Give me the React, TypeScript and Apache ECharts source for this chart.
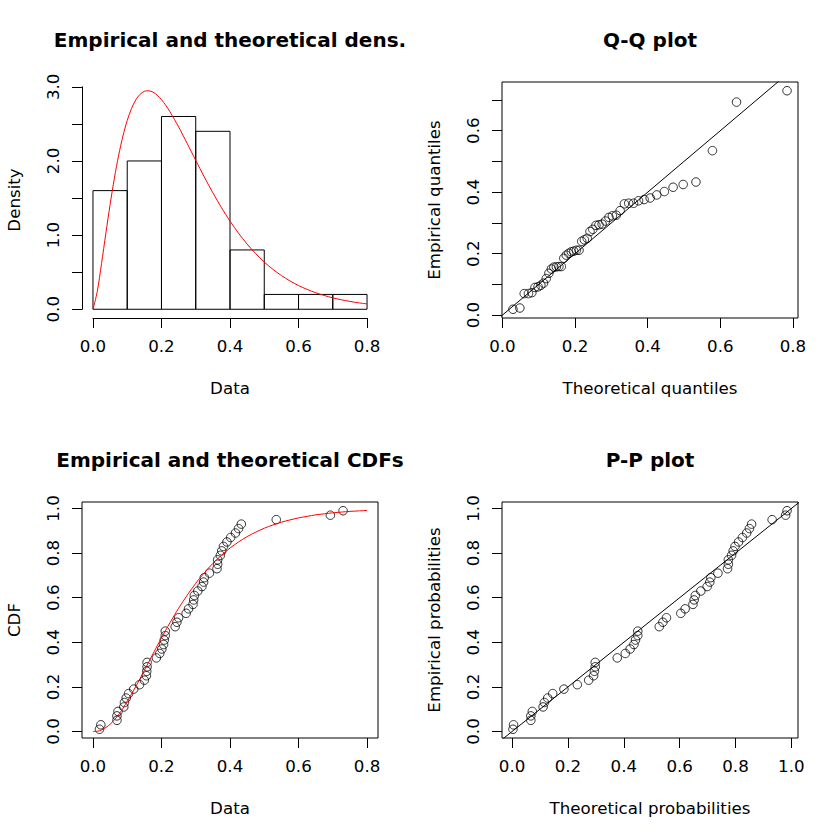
import React, { useEffect, useRef } from "react";
import * as echarts from "echarts";

// ---------- data ----------
const BREAKS = [0, 0.1, 0.2, 0.3, 0.4, 0.5, 0.6, 0.7, 0.8];
const HIST_DENSITY = [1.6, 2.0, 2.6, 2.4, 0.8, 0.2, 0.2, 0.2];

// fitted (theoretical) density curve
const DENS_X = [0, 0.0125, 0.025, 0.0375, 0.05, 0.0625, 0.075, 0.0875, 0.1, 0.1125, 0.125, 0.1375, 0.15, 0.1625, 0.175, 0.1875, 0.2, 0.2125, 0.225, 0.25, 0.275, 0.3, 0.325, 0.35, 0.375, 0.4, 0.425, 0.45, 0.475, 0.5, 0.525, 0.55, 0.575, 0.6, 0.625, 0.65, 0.675, 0.7, 0.725, 0.75, 0.775, 0.8];
const DENS_Y = [0, 0.237, 0.615, 1.021, 1.412, 1.768, 2.078, 2.337, 2.546, 2.707, 2.824, 2.899, 2.939, 2.947, 2.929, 2.887, 2.826, 2.751, 2.662, 2.459, 2.237, 2.008, 1.784, 1.571, 1.372, 1.189, 1.025, 0.879, 0.75, 0.637, 0.539, 0.455, 0.382, 0.32, 0.268, 0.223, 0.186, 0.154, 0.128, 0.106, 0.087, 0.072];

// fitted (theoretical) CDF curve
const CDF_X = [0, 0.0125, 0.025, 0.05, 0.075, 0.1, 0.125, 0.15, 0.175, 0.2, 0.225, 0.25, 0.275, 0.3, 0.325, 0.35, 0.375, 0.4, 0.425, 0.45, 0.475, 0.5, 0.525, 0.55, 0.575, 0.6, 0.625, 0.65, 0.675, 0.7, 0.725, 0.75, 0.775, 0.8];
const CDF_Y = [0, 0.0011, 0.0065, 0.0322, 0.076, 0.1345, 0.2017, 0.2743, 0.3476, 0.42, 0.4884, 0.5528, 0.6112, 0.6646, 0.7117, 0.7539, 0.7903, 0.8226, 0.8499, 0.874, 0.894, 0.9116, 0.926, 0.9387, 0.9488, 0.9579, 0.9649, 0.9714, 0.9761, 0.9807, 0.9839, 0.9871, 0.9892, 0.9915];

// sorted observations
const DATA_SORTED = [0.019, 0.023, 0.07, 0.07, 0.073, 0.09, 0.092, 0.097, 0.104, 0.119, 0.136, 0.15, 0.156, 0.157, 0.158, 0.158, 0.185, 0.195, 0.201, 0.206, 0.208, 0.211, 0.211, 0.24, 0.245, 0.25, 0.272, 0.279, 0.292, 0.294, 0.296, 0.306, 0.318, 0.323, 0.325, 0.34, 0.362, 0.364, 0.364, 0.372, 0.376, 0.381, 0.391, 0.402, 0.416, 0.425, 0.433, 0.535, 0.693, 0.73];
// empirical probabilities
const P_EMP = [0.01, 0.03, 0.05, 0.07, 0.09, 0.11, 0.13, 0.15, 0.17, 0.19, 0.21, 0.23, 0.25, 0.27, 0.29, 0.31, 0.33, 0.35, 0.37, 0.39, 0.41, 0.43, 0.45, 0.47, 0.49, 0.51, 0.53, 0.55, 0.57, 0.59, 0.61, 0.63, 0.65, 0.67, 0.69, 0.71, 0.73, 0.75, 0.77, 0.79, 0.81, 0.83, 0.85, 0.87, 0.89, 0.91, 0.93, 0.95, 0.97, 0.99];
// theoretical quantiles (Q-Q x)
const THEO_Q = [0.029, 0.048, 0.06, 0.0716, 0.081, 0.0895, 0.0981, 0.1058, 0.1132, 0.1207, 0.1279, 0.1347, 0.1416, 0.1485, 0.1554, 0.1622, 0.169, 0.1758, 0.1827, 0.1896, 0.1966, 0.2037, 0.211, 0.2183, 0.2256, 0.2334, 0.2411, 0.2489, 0.2574, 0.2659, 0.2745, 0.2838, 0.2932, 0.3029, 0.3135, 0.3241, 0.3358, 0.3477, 0.3611, 0.3748, 0.3902, 0.4068, 0.425, 0.4459, 0.47, 0.4977, 0.5329, 0.5783, 0.6446, 0.7837];
// theoretical probabilities (P-P x)
const THEO_P = [0.0032, 0.0052, 0.0672, 0.0672, 0.0725, 0.1111, 0.1158, 0.1275, 0.1453, 0.1856, 0.2336, 0.2743, 0.2919, 0.2948, 0.2978, 0.2978, 0.3766, 0.4055, 0.4227, 0.4364, 0.4419, 0.4501, 0.4501, 0.527, 0.5399, 0.5528, 0.6042, 0.6197, 0.6475, 0.6518, 0.6561, 0.6759, 0.6985, 0.7079, 0.7117, 0.737, 0.7714, 0.7743, 0.7743, 0.7859, 0.7916, 0.7981, 0.811, 0.8248, 0.8401, 0.8499, 0.8576, 0.9311, 0.9794, 0.9845];

// ticks
const DATA_TICKS = [0, 0.2, 0.4, 0.6, 0.8];
const DENS_TICKS = [0, 0.5, 1, 1.5, 2, 2.5, 3];
const DENS_LABELS = [0, 1, 2, 3];
const QQ_Y_TICKS = [0, 0.1, 0.2, 0.3, 0.4, 0.5, 0.6, 0.7];
const QQ_Y_LABELS = [0, 0.2, 0.4, 0.6];
const PROB_TICKS = [0, 0.2, 0.4, 0.6, 0.8, 1];
const CDF_XLIM = [0, 0.8];

const TITLES = ["Empirical and theoretical dens.", "Q-Q plot", "Empirical and theoretical CDFs", "P-P plot"];
const XLABELS = ["Data", "Theoretical quantiles", "Data", "Theoretical probabilities"];
const YLABELS = ["Density", "Empirical quantiles", "CDF", "Empirical probabilities"];

// ---------- layout ----------
const FONT = "DejaVu Sans";
const FS = 16.67;
const TFS = 20;
const COL_L = [82, 502];
const ROW_T = [82, 502];
const PW = 296;
const PH = 236;
const TICK_LEN = 10;
const XLAB_MARGIN = 20;
const YLAB_MARGIN = 20;

const pad = (a: number, b: number) => [a - 0.04 * (b - a), b + 0.04 * (b - a)];
const minOf = (a: number[]) => Math.min(...a);
const maxOf = (a: number[]) => Math.max(...a);

function buildOption() {
  const grids: any[] = [];
  const xAxes: any[] = [];
  const yAxes: any[] = [];

  const labelStyle = { fontFamily: FONT, fontSize: FS, color: "#000" };
  const tickStyle = { color: "#000", width: 1 };

  // ---- panel 1: histogram (R style axes, no box) ----
  const xr = pad(CDF_XLIM[0], CDF_XLIM[1]);
  const densMax = Math.max(maxOf(DENS_Y), maxOf(HIST_DENSITY));
  const yr = pad(0, densMax);
  const pxX = PW / (xr[1] - xr[0]);
  const pxY = PH / (yr[1] - yr[0]);
  const g0left = COL_L[0] + (0 - xr[0]) * pxX;
  const g0bottom = ROW_T[0] + PH - (0 - yr[0]) * pxY;
  const g0top = g0bottom - 3 * pxY;
  grids.push({ left: g0left, top: g0top, width: 0.8 * pxX, height: 3 * pxY, show: false });
  xAxes.push({
    type: "value", gridIndex: 0, min: 0, max: 0.8, position: "bottom",
    offset: ROW_T[0] + PH - g0bottom,
    axisLine: { show: true, onZero: false, lineStyle: tickStyle },
    axisTick: { show: true, customValues: DATA_TICKS, length: TICK_LEN, lineStyle: tickStyle },
    axisLabel: { ...labelStyle, customValues: DATA_TICKS, margin: XLAB_MARGIN, formatter: (v: number) => v.toFixed(1) },
    splitLine: { show: false },
  });
  yAxes.push({
    type: "value", gridIndex: 0, min: 0, max: 3, position: "left",
    offset: g0left - COL_L[0],
    axisLine: { show: true, onZero: false, lineStyle: tickStyle },
    axisTick: { show: true, customValues: DENS_TICKS, length: TICK_LEN, lineStyle: tickStyle },
    axisLabel: { ...labelStyle, customValues: DENS_LABELS, margin: YLAB_MARGIN, rotate: 90, formatter: (v: number) => v.toFixed(1) },
    splitLine: { show: false },
  });

  // ---- boxed panels ----
  const boxed = (gi: number, left: number, top: number, xlim: number[], ylim: number[], xt: number[], xl: number[], yt: number[], yl: number[]) => {
    grids.push({ left, top, width: PW, height: PH, show: true, borderColor: "#000", borderWidth: 1, backgroundColor: "rgba(0,0,0,0)" });
    xAxes.push({
      type: "value", gridIndex: gi, min: xlim[0], max: xlim[1], position: "bottom",
      axisLine: { show: false, onZero: false },
      axisTick: { show: true, customValues: xt, length: TICK_LEN, lineStyle: tickStyle },
      axisLabel: { ...labelStyle, customValues: xl, margin: XLAB_MARGIN, formatter: (v: number) => v.toFixed(1) },
      splitLine: { show: false },
    });
    yAxes.push({
      type: "value", gridIndex: gi, min: ylim[0], max: ylim[1], position: "left",
      axisLine: { show: false, onZero: false },
      axisTick: { show: true, customValues: yt, length: TICK_LEN, lineStyle: tickStyle },
      axisLabel: { ...labelStyle, customValues: yl, margin: YLAB_MARGIN, rotate: 90, formatter: (v: number) => v.toFixed(1) },
      splitLine: { show: false },
    });
  };

  boxed(1, COL_L[1], ROW_T[0], pad(minOf(THEO_Q), maxOf(THEO_Q)), pad(minOf(DATA_SORTED), maxOf(DATA_SORTED)), DATA_TICKS, DATA_TICKS, QQ_Y_TICKS, QQ_Y_LABELS);
  boxed(2, COL_L[0], ROW_T[1], pad(CDF_XLIM[0], CDF_XLIM[1]), pad(minOf(P_EMP), maxOf(P_EMP)), DATA_TICKS, DATA_TICKS, PROB_TICKS, PROB_TICKS);
  boxed(3, COL_L[1], ROW_T[1], pad(minOf(THEO_P), maxOf(THEO_P)), pad(minOf(P_EMP), maxOf(P_EMP)), PROB_TICKS, PROB_TICKS, PROB_TICKS, PROB_TICKS);

  const pointStyle = { color: "rgba(0,0,0,0)", borderColor: "#000", borderWidth: 1 };
  const scatter = (gi: number, data: number[][]) => ({
    type: "scatter", xAxisIndex: gi, yAxisIndex: gi, data, symbol: "circle", symbolSize: 8.5,
    itemStyle: pointStyle, silent: true, clip: false,
  });
  const curve = (gi: number, data: number[][], color: string, smooth: number | boolean) => ({
    type: "line", xAxisIndex: gi, yAxisIndex: gi, data, showSymbol: false, symbol: "none", smooth,
    lineStyle: { color, width: 1 }, silent: true, clip: true,
  });

  const series: any[] = [
    {
      type: "custom", xAxisIndex: 0, yAxisIndex: 0, silent: true,
      data: HIST_DENSITY.map((d, i) => [BREAKS[i], BREAKS[i + 1], d]),
      encode: { x: [0, 1], y: 2 },
      renderItem: (_p: any, api: any) => {
        const a = api.coord([api.value(0), 0]);
        const b = api.coord([api.value(1), api.value(2)]);
        return {
          type: "rect",
          shape: { x: a[0], y: b[1], width: b[0] - a[0], height: a[1] - b[1] },
          style: { fill: "none", stroke: "#000", lineWidth: 1 },
        };
      },
    },
    curve(0, DENS_X.map((x, i) => [x, DENS_Y[i]]), "#ff0000", 0.3),
    scatter(1, THEO_Q.map((q, i) => [q, DATA_SORTED[i]])),
    curve(1, [[-1, -1], [2, 2]], "#000", false),
    scatter(2, DATA_SORTED.map((x, i) => [x, P_EMP[i]])),
    curve(2, CDF_X.map((x, i) => [x, CDF_Y[i]]), "#ff0000", 0.3),
    scatter(3, THEO_P.map((p, i) => [p, P_EMP[i]])),
    curve(3, [[-1, -1], [2, 2]], "#000", false),
  ];

  const graphic: any[] = [];
  const txt = (text: string, x: number, y: number, fs: number, bold: boolean, rot: boolean) => {
    graphic.push({
      type: "text", x, y, rotation: rot ? Math.PI / 2 : 0, silent: true,
      style: {
        text, fill: "#000", fontFamily: FONT, fontSize: fs, fontWeight: bold ? "bold" : "normal",
        align: "center", verticalAlign: "middle", textAlign: "center", textVerticalAlign: "middle",
      },
    });
  };
  for (let i = 0; i < 4; i++) {
    const col = i % 2;
    const row = Math.floor(i / 2);
    const cx = COL_L[col] + PW / 2;
    const cy = ROW_T[row] + PH / 2;
    const oy = row * 420;
    txt(TITLES[i], cx, 46.7 - 0.346 * TFS + oy, TFS, true, false);
    txt(XLABELS[i], cx, 394.3 - 0.346 * FS + oy, FS, false, false);
    txt(YLABELS[i], 20 - 0.346 * FS + col * 420, cy, FS, false, true);
  }

  return {
    animation: false,
    backgroundColor: "#fff",
    grid: grids,
    xAxis: xAxes,
    yAxis: yAxes,
    series,
    graphic,
  };
}

export default function App() {
  const ref = useRef<HTMLDivElement>(null);
  useEffect(() => {
    const chart = echarts.init(ref.current!, null, { renderer: "svg" });
    chart.setOption(buildOption() as any);
    return () => chart.dispose();
  }, []);
  return (
    <div
      ref={ref}
      style={{ position: "absolute", left: 0, top: 0, width: 840, height: 840, background: "#fff" }}
    />
  );
}
